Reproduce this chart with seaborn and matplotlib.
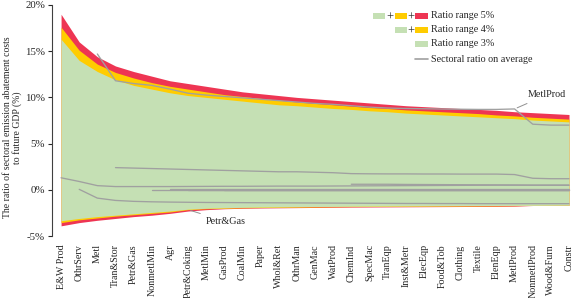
import numpy as np
import pandas as pd
import matplotlib
matplotlib.use("Agg")
import matplotlib.pyplot as plt
import seaborn as sns
from matplotlib.patches import Rectangle
from matplotlib.lines import Line2D

sectors = ["E&W Prod", "OthrServ", "Metl", "Tran&Stor", "Petr&Gas", "NonmetlMin", "Agr",
           "Petr&Coking", "MetlMin", "GasProd", "CoalMin", "Paper", "Whol&Ret", "OthrMan",
           "GenMac", "WatProd", "ChemInd", "SpecMac", "TranEqp", "Inst&Metr", "ElecEqp",
           "Food&Tob", "Clothing", "Textile", "ElenEqp", "MetlProd", "NonmetlProd",
           "Wood&Furn", "Constr"]

# upper envelopes (%)
green_top = [16.3, 14.0, 12.8, 11.9, 11.3, 10.9, 10.5, 10.2, 10.0, 9.8, 9.6, 9.4, 9.2, 9.1,
             8.95, 8.8, 8.7, 8.55, 8.45, 8.3, 8.2, 8.1, 8.0, 7.9, 7.8, 7.7, 7.55, 7.45, 7.35]
yellow_top = [17.6, 15.1, 13.6, 12.7, 12.1, 11.6, 11.2, 10.9, 10.6, 10.3, 10.1, 9.9, 9.7, 9.5,
              9.35, 9.2, 9.05, 8.9, 8.8, 8.65, 8.55, 8.45, 8.35, 8.25, 8.1, 8.0, 7.85, 7.75, 7.65]
red_top = [19.0, 16.0, 14.4, 13.4, 12.8, 12.3, 11.8, 11.5, 11.2, 10.9, 10.6, 10.4, 10.2, 10.0,
           9.85, 9.7, 9.55, 9.4, 9.25, 9.1, 9.0, 8.9, 8.8, 8.7, 8.6, 8.45, 8.35, 8.25, 8.15]
# lower envelopes (%)
green_bot = [-3.35, -3.1, -2.9, -2.75, -2.6, -2.45, -2.3, -2.1, -2.0, -1.95, -1.9, -1.87, -1.85,
             -1.83, -1.81, -1.8, -1.78, -1.77, -1.76, -1.75, -1.74, -1.73, -1.72, -1.71, -1.7,
             -1.69, -1.68, -1.67, -1.66]
yellow_bot = [-3.55, -3.25, -3.05, -2.85, -2.7, -2.55, -2.4, -2.15, -2.05, -2.0, -1.95, -1.92,
              -1.9, -1.88, -1.86, -1.84, -1.82, -1.81, -1.8, -1.79, -1.78, -1.77, -1.76, -1.75,
              -1.74, -1.72, -1.69, -1.68, -1.67]
red_bot = [-3.9, -3.55, -3.3, -3.1, -2.9, -2.75, -2.55, -2.3, -2.15, -2.05, -2.0, -1.97, -1.95,
           -1.93, -1.91, -1.89, -1.87, -1.86, -1.85, -1.84, -1.83, -1.82, -1.81, -1.8, -1.79,
           -1.77, -1.7, -1.69, -1.68]

nan = np.nan
avg_metlprod = [nan, nan, 14.7, 11.8, 11.5, 11.3, 10.9, 10.45, 10.25, 10.1, 9.95, 9.8, 9.65, 9.5,
                9.35, 9.25, 9.1, 8.95, 8.85, 8.8, 8.77, 8.74, 8.72, 8.7, 8.7, 8.75, 7.1, 7.0, 7.0]
avg_b = [1.3, 0.9, 0.45, 0.35, 0.35, 0.35, 0.35, 0.36, 0.37, 0.38, 0.38, 0.39, 0.4, 0.4, 0.4,
         0.41, 0.42, 0.43, 0.44, 0.45, 0.46, 0.47, 0.48, 0.49, 0.5, 0.5, 0.5, 0.5, 0.5]
avg_c = [nan, 0.05, -0.9, -1.15, -1.25, -1.3, -1.33, -1.35, -1.37, -1.38, -1.39, -1.4, -1.41,
         -1.42, -1.43, -1.44, -1.45, -1.46, -1.47, -1.48, -1.48, -1.49, -1.49, -1.5, -1.5, -1.5,
         -1.5, -1.5, -1.5]
avg_d = [nan, nan, nan, 2.4, 2.35, 2.3, 2.25, 2.2, 2.15, 2.1, 2.05, 2.0, 1.95, 1.95, 1.9, 1.85,
         1.75, 1.73, 1.72, 1.72, 1.71, 1.71, 1.7, 1.7, 1.7, 1.65, 1.25, 1.2, 1.2]
avg_e1 = [nan] * 5 + [0.0] * 24
avg_e2 = [nan] * 6 + [0.05] * 23
avg_e3 = [nan] * 7 + [-0.05] * 22
avg_e4 = [nan] * 9 + [0.02] * 20
avg_f = [nan] * 16 + [0.6, 0.6, 0.6, 0.58, 0.57, 0.56, 0.55, 0.54, 0.53, 0.52, 0.5, 0.5, 0.5]

sns.set_theme(style="white")
plt.rcParams["font.family"] = ["Liberation Serif", "DejaVu Serif"]

W, H = 575, 298
fig = plt.figure(figsize=(W / 100, H / 100), dpi=100)
ax = fig.add_axes([52 / W, 1 - 236 / H, 1 - 52 / W, (236 - 5) / H])

x = np.arange(len(sectors))
c_green = "#c5e0b4"
c_yellow = "#ffcc00"
c_red = "#ee3553"
c_gray = "#a0a0a0"

ax.fill_between(x, red_bot, red_top, color=c_red, lw=0)
ax.fill_between(x, yellow_bot, yellow_top, color=c_yellow, lw=0)
ax.fill_between(x, green_bot, green_top, color=c_green, lw=0)

lines = {"MetlProd": avg_metlprod, "b": avg_b, "c": avg_c, "d": avg_d, "e1": avg_e1,
         "e2": avg_e2, "e3": avg_e3, "e4": avg_e4, "f": avg_f}
rows = []
for name, vals in lines.items():
    for i, v in enumerate(vals):
        if not np.isnan(v):
            rows.append({"line": name, "x": i, "y": v})
df = pd.DataFrame(rows)
sns.lineplot(data=df, x="x", y="y", units="line", estimator=None, color=c_gray, lw=0.95,
             ax=ax, legend=False)

ax.set_xlim(-0.5, 28.33)
ax.set_ylim(-5, 20)
ax.set_yticks([-5, 0, 5, 10, 15, 20])
ax.set_yticklabels(["-5%", "0%", "5%", "10%", "15%", "20%"], fontsize=7.8)
ax.set_xticks(x)
ax.set_xticklabels(sectors, rotation=90, fontsize=7.2, va="top", ha="center")
ax.tick_params(axis="x", length=0, pad=6)
ax.tick_params(axis="y", length=3, width=0.8, pad=2, direction="out", left=True)
for s in ["top", "right", "bottom"]:
    ax.spines[s].set_visible(False)
ax.spines["left"].set_color("#404040")
ax.spines["left"].set_linewidth(0.8)
ax.set_xlabel("")
ax.set_ylabel("The ratio of sectoral emission abatement costs\nto future GDP (%)",
              fontsize=7.0, linespacing=0.92)
ax.yaxis.set_label_coords(-0.058, 0.47)

# annotations
ax.annotate("Petr&Gas", xy=(7, -2.15), xytext=(8.0, -3.45), fontsize=7.3, va="center",
            ha="left", arrowprops=dict(arrowstyle="-", color="#909090", lw=0.7))
ax.annotate("MetlProd", xy=(25, 8.75), xytext=(25.75, 10.3), fontsize=7.3, va="center",
            ha="left", arrowprops=dict(arrowstyle="-", color="#909090", lw=0.7))

# legend (drawn in figure pixel space)
def fx(px):
    return px / W

def fy(py):
    return 1 - py / H

def swatch(x0, x1, yc, color):
    fig.patches.append(Rectangle((fx(x0), fy(yc + 3)), fx(x1) - fx(x0), (6 / H),
                                 transform=fig.transFigure, color=color, lw=0))

def plus(xc, yc):
    fig.text(fx(xc), fy(yc + 0.5), "+", fontsize=9, ha="center", va="center_baseline")

rows_y = [16, 30, 44, 59]
swatch(373, 385, rows_y[0], c_green); plus(390, rows_y[0])
swatch(395, 407, rows_y[0], c_yellow); plus(411, rows_y[0])
swatch(415, 428, rows_y[0], c_red)
swatch(395, 407, rows_y[1], c_green); plus(411, rows_y[1])
swatch(415, 428, rows_y[1], c_yellow)
swatch(415, 428, rows_y[2], c_green)
fig.lines.append(Line2D([fx(415), fx(428)], [fy(rows_y[3]), fy(rows_y[3])],
                        transform=fig.transFigure, color=c_gray, lw=1.2))
labels = ["Ratio range 5%", "Ratio range 4%", "Ratio range 3%", "Sectoral ratio on average"]
for yy, t in zip(rows_y, labels):
    fig.text(fx(431), fy(yy), t, fontsize=7.3, ha="left", va="center")

fig.savefig("out.png", dpi=100)
